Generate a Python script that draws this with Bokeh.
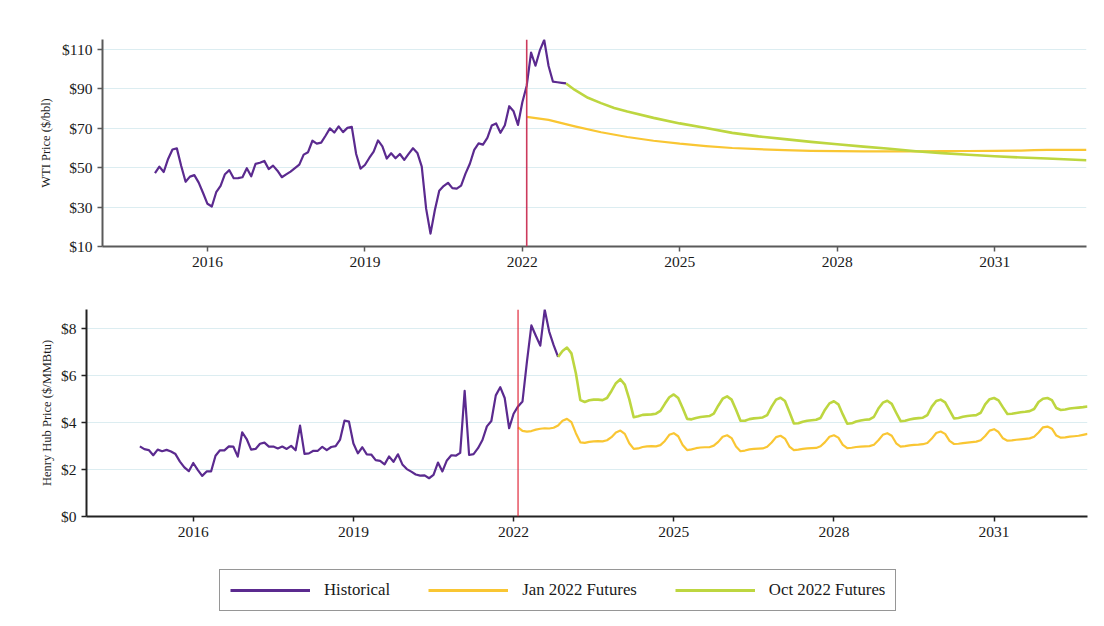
from bokeh.plotting import figure
from bokeh.layouts import column
from bokeh.models import Range1d, FixedTicker, Span, Legend, LegendItem
from bokeh.embed import file_html
from bokeh.resources import INLINE

# ---------------------------------------------------------------- data
# Monthly history, first month Jan 2015, last month Nov 2022
hist_start = "2015-01"
wti_hist = [
    47.22, 50.58, 47.82, 54.45, 59.27, 59.82, 50.90, 42.87, 45.48, 46.22, 42.44, 37.19,   # 2015
    31.68, 30.32, 37.55, 40.75, 46.71, 48.76, 44.65, 44.72, 45.18, 49.78, 45.66, 51.97,   # 2016
    52.50, 53.47, 49.33, 51.06, 48.48, 45.18, 46.63, 48.04, 49.82, 51.58, 56.64, 57.88,   # 2017
    63.70, 62.23, 62.73, 66.25, 69.98, 67.87, 70.98, 68.06, 70.23, 70.75, 56.96, 49.52,   # 2018
    51.38, 54.95, 58.15, 63.86, 60.83, 54.66, 57.35, 54.81, 56.95, 53.96, 57.03, 59.88,   # 2019
    57.52, 50.54, 29.21, 16.55, 28.56, 38.31, 40.71, 42.34, 39.63, 39.40, 40.94, 47.02,   # 2020
    52.00, 59.04, 62.33, 61.72, 65.17, 71.38, 72.49, 67.73, 71.54, 81.22, 78.65, 71.71,   # 2021
    83.22, 91.64, 108.50, 101.78, 109.55, 114.84, 101.62, 93.67, 93.40, 93.10, 92.80,     # 2022
]
hh_hist = [
    2.99, 2.87, 2.83, 2.61, 2.85, 2.78, 2.84, 2.77, 2.66, 2.34, 2.09, 1.93,   # 2015
    2.28, 1.99, 1.73, 1.92, 1.92, 2.59, 2.82, 2.82, 2.99, 2.98, 2.55, 3.59,   # 2016
    3.30, 2.85, 2.88, 3.10, 3.15, 2.98, 2.98, 2.90, 2.98, 2.88, 3.01, 2.82,   # 2017
    3.87, 2.67, 2.69, 2.80, 2.80, 2.97, 2.83, 2.96, 3.00, 3.28, 4.09, 4.04,   # 2018
    3.11, 2.69, 2.95, 2.65, 2.64, 2.40, 2.37, 2.22, 2.56, 2.33, 2.65, 2.22,   # 2019
    2.02, 1.91, 1.79, 1.74, 1.75, 1.63, 1.77, 2.30, 1.92, 2.39, 2.61, 2.59,   # 2020
    2.71, 5.35, 2.62, 2.66, 2.91, 3.26, 3.84, 4.07, 5.16, 5.51, 5.05, 3.76,   # 2021
    4.38, 4.69, 4.90, 6.60, 8.14, 7.70, 7.28, 8.81, 7.88, 7.30, 6.80,         # 2022
]

# WTI futures strips (contract month, $/bbl)
wti_jan22_months = ["2022-02", "2022-07", "2023-01", "2023-07", "2024-01", "2024-07",
                    "2025-01", "2025-07", "2026-01", "2026-07", "2027-01", "2027-07",
                    "2028-01", "2028-07", "2029-01", "2029-07", "2030-01", "2030-07",
                    "2031-01", "2031-07", "2031-10", "2032-01", "2032-10"]
wti_jan22 = [75.8, 74.3, 71.0, 68.0, 65.6, 63.7, 62.2, 61.0, 60.0, 59.4, 58.9, 58.6,
             58.4, 58.3, 58.3, 58.3, 58.4, 58.5, 58.6, 58.7, 58.9, 59.1, 59.1]

wti_oct22_months = ["2022-11", "2023-01", "2023-04", "2023-07", "2023-10", "2024-01",
                    "2024-07", "2025-01", "2025-07", "2026-01", "2026-07", "2027-01",
                    "2027-07", "2028-01", "2028-07", "2029-01", "2029-07", "2030-01",
                    "2030-07", "2031-01", "2031-07", "2032-01", "2032-10"]
wti_oct22 = [92.8, 89.5, 85.5, 82.8, 80.3, 78.5, 75.3, 72.5, 70.2, 67.7, 65.9, 64.5,
             63.1, 61.9, 60.7, 59.6, 58.4, 57.4, 56.6, 55.8, 55.2, 54.7, 53.8]

# Henry Hub futures strips, monthly contracts ($/MMBtu)
hh_jan22_start = "2022-02"
hh_jan22 = [
    3.80, 3.65, 3.62, 3.64, 3.70, 3.74, 3.76, 3.75, 3.78, 3.88, 4.08,         # 2022 Feb-Dec
    4.16, 4.02, 3.55, 3.16, 3.14, 3.18, 3.20, 3.21, 3.20, 3.25, 3.38, 3.58,   # 2023
    3.66, 3.52, 3.12, 2.88, 2.90, 2.96, 2.99, 3.00, 2.99, 3.04, 3.22, 3.48,   # 2024
    3.55, 3.42, 3.05, 2.83, 2.86, 2.91, 2.94, 2.95, 2.95, 3.02, 3.18, 3.40,   # 2025
    3.46, 3.34, 2.98, 2.78, 2.81, 2.86, 2.88, 2.89, 2.90, 2.97, 3.15, 3.38,   # 2026
    3.44, 3.32, 2.98, 2.83, 2.85, 2.88, 2.90, 2.91, 2.92, 2.99, 3.17, 3.40,   # 2027
    3.46, 3.36, 3.05, 2.91, 2.93, 2.96, 2.98, 2.99, 3.00, 3.06, 3.25, 3.48,   # 2028
    3.55, 3.44, 3.12, 2.98, 3.00, 3.03, 3.05, 3.06, 3.08, 3.13, 3.32, 3.56,   # 2029
    3.62, 3.52, 3.22, 3.09, 3.10, 3.13, 3.15, 3.17, 3.19, 3.25, 3.43, 3.66,   # 2030
    3.72, 3.60, 3.33, 3.23, 3.24, 3.27, 3.29, 3.31, 3.33, 3.40, 3.58, 3.80,   # 2031
    3.83, 3.74, 3.45, 3.36, 3.37, 3.40, 3.42, 3.44, 3.48, 3.52,               # 2032 Jan-Oct
]
hh_oct22_start = "2022-11"
hh_oct22 = [
    6.80, 7.05,                                                               # 2022 Nov-Dec
    7.20, 6.95, 6.10, 4.96, 4.88, 4.95, 4.98, 4.98, 4.96, 5.05, 5.35, 5.68,   # 2023
    5.85, 5.62, 5.00, 4.23, 4.27, 4.33, 4.34, 4.35, 4.38, 4.50, 4.80, 5.08,   # 2024
    5.20, 5.05, 4.62, 4.16, 4.14, 4.20, 4.24, 4.26, 4.28, 4.38, 4.72, 5.02,   # 2025
    5.12, 4.98, 4.55, 4.08, 4.08, 4.15, 4.18, 4.20, 4.22, 4.32, 4.68, 4.98,   # 2026
    5.06, 4.92, 4.45, 3.96, 3.97, 4.04, 4.08, 4.10, 4.12, 4.20, 4.55, 4.82,   # 2027
    4.91, 4.78, 4.35, 3.95, 3.97, 4.05, 4.09, 4.12, 4.14, 4.25, 4.60, 4.85,   # 2028
    4.93, 4.80, 4.42, 4.06, 4.08, 4.13, 4.17, 4.19, 4.21, 4.32, 4.68, 4.92,   # 2029
    4.98, 4.86, 4.52, 4.18, 4.20, 4.25, 4.28, 4.30, 4.32, 4.42, 4.78, 5.00,   # 2030
    5.05, 4.95, 4.65, 4.37, 4.38, 4.41, 4.44, 4.46, 4.49, 4.58, 4.88, 5.02,   # 2031
    5.05, 4.96, 4.62, 4.54, 4.56, 4.60, 4.62, 4.64, 4.66, 4.69,               # 2032 Jan-Oct
]

forecast_start = "2022-02"

year_ticks = [2016, 2019, 2022, 2025, 2028, 2031]
wti_ticks = [10, 30, 50, 70, 90, 110]
wti_tick_labels = ["$10", "$30", "$50", "$70", "$90", "$110"]
hh_ticks = [0, 2, 4, 6, 8]
hh_tick_labels = ["$0", "$2", "$4", "$6", "$8"]

series_names = ["Historical", "Jan 2022 Futures", "Oct 2022 Futures"]

# ---------------------------------------------------------------- helpers
def to_year(ym):
    y, m = ym.split("-")
    return int(y) + (int(m) - 1) / 12.0


def monthly_x(start, n):
    x0 = to_year(start)
    return [x0 + i / 12.0 for i in range(n)]


PURPLE = "#5b2a8f"
YELLOW = "#f9c633"
GREEN = "#bdd640"
FONT = "Liberation Serif"
X_START, X_END = 2014.0, 2032.75


def style(p, ticks, labels, axis_color, title_standoff):
    p.frame_align = False
    p.outline_line_color = None
    p.xgrid.visible = False
    p.ygrid.grid_line_color = "#dcedf1"
    p.ygrid.grid_line_width = 1
    p.ygrid.ticker = FixedTicker(ticks=ticks)
    p.xaxis.ticker = FixedTicker(ticks=year_ticks)
    p.xaxis.major_label_overrides = {t: str(t) for t in year_ticks}
    p.yaxis.ticker = FixedTicker(ticks=ticks)
    p.yaxis.major_label_overrides = dict(zip(ticks, labels))
    for ax in (p.xaxis[0], p.yaxis[0]):
        ax.axis_line_color = axis_color
        ax.axis_line_width = 2
        ax.major_tick_line_color = axis_color
        ax.major_tick_line_width = 1.5
        ax.major_tick_out = 5
        ax.major_tick_in = 0
        ax.minor_tick_out = 0
        ax.minor_tick_in = 0
        ax.major_label_text_font = FONT
        ax.major_label_text_font_size = "15.5px"
        ax.major_label_text_color = "#1a1a1a"
        ax.axis_label_text_font = FONT
        ax.axis_label_text_font_style = "normal"
        ax.axis_label_text_font_size = "12.5px"
        ax.axis_label_text_color = "#1a1a1a"
    p.xaxis.major_label_standoff = 5
    p.yaxis.major_label_standoff = 5
    p.yaxis.axis_label_standoff = title_standoff


# ---------------------------------------------------------------- WTI panel
p1 = figure(width=1104, height=290, output_backend="svg", toolbar_location=None,
            x_range=Range1d(X_START, X_END), y_range=Range1d(10, 115.1),
            min_border_left=102, min_border_right=18, min_border_top=39,
            min_border_bottom=44)
style(p1, wti_ticks, wti_tick_labels, "#5a5a5a", 6)
p1.yaxis.axis_label = "WTI Price ($/bbl)"

p1.line(monthly_x(hist_start, len(wti_hist)), wti_hist, line_color=PURPLE,
        line_width=2.2, line_join="round")
p1.line([to_year(m) for m in wti_jan22_months], wti_jan22, line_color=YELLOW,
        line_width=2.2, line_join="round")
p1.line([to_year(m) for m in wti_oct22_months], wti_oct22, line_color=GREEN,
        line_width=2.6, line_join="round")
p1.add_layout(Span(location=to_year(forecast_start), dimension="height",
                   line_color="#cc3a5c", line_width=1.6))

# ---------------------------------------------------------------- Henry Hub panel
p2 = figure(width=1104, height=270, output_backend="svg", toolbar_location=None,
            x_range=Range1d(X_START, X_END), y_range=Range1d(0, 8.82),
            min_border_left=86, min_border_right=17, min_border_top=19,
            min_border_bottom=44)
style(p2, hh_ticks, hh_tick_labels, "#222222", 4)
p2.yaxis.axis_label = "Henry Hub Price ($/MMBtu)"

p2.line(monthly_x(hist_start, len(hh_hist)), hh_hist, line_color=PURPLE,
        line_width=2.2, line_join="round")
p2.line(monthly_x(hh_jan22_start, len(hh_jan22)), hh_jan22, line_color=YELLOW,
        line_width=2.2, line_join="round")
p2.line(monthly_x(hh_oct22_start, len(hh_oct22)), hh_oct22, line_color=GREEN,
        line_width=2.6, line_join="round")
p2.add_layout(Span(location=to_year(forecast_start), dimension="height",
                   line_color="#e02a3c", line_width=1.2))

# ---------------------------------------------------------------- shared legend
p3 = figure(width=1104, height=66, output_backend="svg", toolbar_location=None,
            x_range=Range1d(0, 1), y_range=Range1d(0, 1),
            x_axis_type=None, y_axis_type=None,
            min_border_left=0, min_border_right=0, min_border_top=0,
            min_border_bottom=0)
p3.frame_align = False
p3.outline_line_color = None
p3.grid.visible = False
keys = []
nan = float("nan")
for name, color in zip(series_names, [PURPLE, YELLOW, GREEN]):
    # legend key only: a line with no drawable point
    r = p3.line(x=[nan], y=[nan], line_color=color, line_width=3)
    keys.append(LegendItem(label=name, renderers=[r]))

legend = Legend(items=keys, location=(219, 15), orientation="horizontal",
                glyph_width=80, glyph_height=20, label_height=20,
                label_standoff=14, spacing=38, padding=10, margin=0,
                label_text_font=FONT, label_text_font_size="16.8px",
                label_text_color="#1a1a1a",
                border_line_color="#2e2e2e", border_line_width=1.8,
                background_fill_alpha=1.0)
p3.add_layout(legend)

layout = column(p1, p2, p3, spacing=0)
open("out.html", "w").write(file_html(layout, INLINE))
